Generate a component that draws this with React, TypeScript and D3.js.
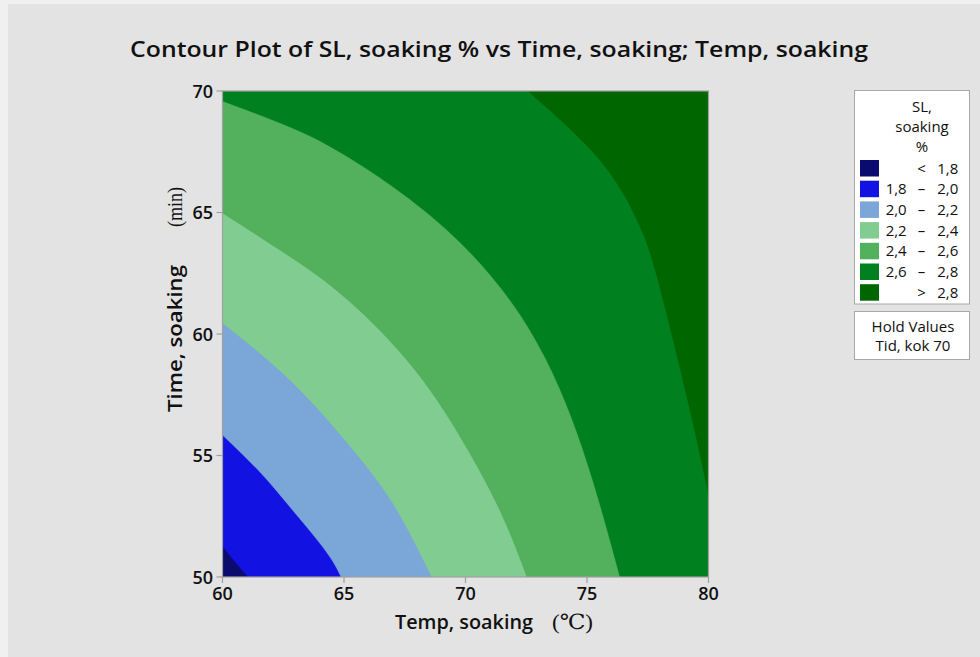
import React from "react";
import * as d3 from "d3";

// ---- data ----
const TEMP_DOMAIN = [60, 80];
const TIME_DOMAIN = [50, 70];
const X_TICKS = [60, 65, 70, 75, 80];
const Y_TICKS = [50, 55, 60, 65, 70];

// contour boundaries [temp, time]
const C18 = [[60, 51.28], [60.5, 50.65], [61.05, 50]];
const C20 = [[60, 55.84], [61.54, 54.32], [62.78, 52.88], [64.22, 51.11], [64.88, 50]];
const C22 = [[60, 60.45], [62.85, 58.04], [65.38, 55.23], [67.1, 52.89], [68.62, 50]];
const C24 = [[60, 64.98], [62.78, 63.18], [65.16, 61.4], [67.92, 58.52], [70.1, 55.23], [71.54, 52.47], [72.53, 50]];
const C26 = [[60, 69.59], [62.78, 68.52], [65.37, 67.16], [69.24, 64.28], [72.65, 60.16], [74.84, 55.23], [76.36, 50]];
const C28 = [[72.57, 70], [75.53, 67.16], [77.06, 64.69], [77.92, 62.22], [79.24, 56.87], [80, 53.4]];

const LEVEL_COLORS = ["#0b0b6f", "#1212e2", "#7ba6d8", "#81cd91", "#53b05d", "#00801f", "#006600"];
const LEGEND_LOW = ["", "1,8", "2,0", "2,2", "2,4", "2,6", ""];
const LEGEND_SIGN = ["<", "–", "–", "–", "–", "–", ">"];
const LEGEND_HIGH = ["1,8", "2,0", "2,2", "2,4", "2,6", "2,8", "2,8"];

const TITLE = "Contour Plot of SL, soaking % vs Time, soaking; Temp, soaking";

const W = 980;
const H = 657;
const PL = 222.5, PR = 708.5, PT = 91, PB = 577;

export default function App() {
  const x = d3.scaleLinear().domain(TEMP_DOMAIN).range([PL, PR]);
  const y = d3.scaleLinear().domain(TIME_DOMAIN).range([PB, PT]);
  const line = d3
    .line<number[]>()
    .x((d) => x(d[0]))
    .y((d) => y(d[1]))
    .curve(d3.curveNatural);

  const lowerRegion = (b: number[][]) =>
    `${line(b)}L${x(80)},${y(50)}L${x(80)},${y(70)}L${x(60)},${y(70)}Z`;
  const cornerRegion = (b: number[][]) => `${line(b)}L${x(80)},${y(70)}Z`;

  const regions = [
    { d: lowerRegion(C18), c: LEVEL_COLORS[1] },
    { d: lowerRegion(C20), c: LEVEL_COLORS[2] },
    { d: lowerRegion(C22), c: LEVEL_COLORS[3] },
    { d: lowerRegion(C24), c: LEVEL_COLORS[4] },
    { d: lowerRegion(C26), c: LEVEL_COLORS[5] },
    { d: cornerRegion(C28), c: LEVEL_COLORS[6] },
  ];

  const font = "'Open Sans', 'Noto Sans', sans-serif";
  const axisCol = "#a0a0a0";

  return (
    <svg
      width={W}
      height={H}
      style={{ position: "absolute", left: 0, top: 0, display: "block" }}
      fontFamily={font}
    >
      <rect x={0} y={0} width={W} height={H} fill="#f0f0f0" />
      <rect x={8} y={4} width={W - 8} height={H - 4} fill="#e3e3e3" />

      <text x={499} y={57} textAnchor="middle" fontSize={22} fontWeight={600} fill="#111" textLength={738} lengthAdjust="spacingAndGlyphs">
        {TITLE}
      </text>

      <defs>
        <clipPath id="plotclip">
          <rect x={PL} y={PT} width={PR - PL} height={PB - PT} />
        </clipPath>
      </defs>
      <g clipPath="url(#plotclip)">
        <rect x={PL} y={PT} width={PR - PL} height={PB - PT} fill={LEVEL_COLORS[0]} />
        {regions.map((r, i) => (
          <path key={i} d={r.d} fill={r.c} stroke={r.c} strokeWidth={0.5} />
        ))}
      </g>
      <rect x={PL} y={PT} width={PR - PL} height={PB - PT} fill="none" stroke={axisCol} strokeWidth={1.2} />

      {X_TICKS.map((t) => (
        <g key={"x" + t}>
          <line x1={x(t)} x2={x(t)} y1={PB} y2={PB + 6} stroke={axisCol} strokeWidth={1.2} />
          <text x={x(t)} y={600} textAnchor="middle" fontSize={18} fontWeight={600} fill="#111">
            {t}
          </text>
        </g>
      ))}
      {Y_TICKS.map((t) => (
        <g key={"y" + t}>
          <line x1={PL - 6} x2={PL} y1={y(t)} y2={y(t)} stroke={axisCol} strokeWidth={1.2} />
          <text x={213} y={y(t) + 6.5} textAnchor="end" fontSize={18} fontWeight={600} fill="#111">
            {t}
          </text>
        </g>
      ))}

      <text x={395} y={629} fontSize={19} fontWeight={600} fill="#111" textLength={138} lengthAdjust="spacingAndGlyphs">
        Temp, soaking
      </text>
      <text x={552} y={629} fontSize={21} fontFamily="'Liberation Serif', 'DejaVu Serif', serif" fill="#111" textLength={41} lengthAdjust="spacingAndGlyphs">
        (℃)
      </text>

      <g transform="translate(182,412) rotate(-90)">
        <text x={0} y={0} fontSize={19} fontWeight={600} fill="#111" textLength={147} lengthAdjust="spacingAndGlyphs">
          Time, soaking
        </text>
        <text x={185} y={0} fontSize={21} fontFamily="'Liberation Serif', 'DejaVu Serif', serif" fill="#111" textLength={40} lengthAdjust="spacingAndGlyphs">
          (min)
        </text>
      </g>

      {/* legend */}
      <rect x={854.5} y={90.5} width={115} height={213.5} fill="#fff" stroke="#a8a8a8" strokeWidth={1} />
      <g fontSize={15} fill="#111">
        <text x={922} y={112} textAnchor="middle">SL,</text>
        <text x={922} y={131.5} textAnchor="middle">soaking</text>
        <text x={922} y={151.5} textAnchor="middle">%</text>
        {LEVEL_COLORS.map((c, i) => {
          const top = 160 + i * 20.7;
          return (
            <g key={"l" + i}>
              <rect x={860} y={top} width={19} height={16.5} fill={c} />
              {LEGEND_LOW[i] && (
                <text x={906.7} y={top + 13.5} textAnchor="end">{LEGEND_LOW[i]}</text>
              )}
              <text x={921.5} y={top + 13.5} textAnchor="middle">{LEGEND_SIGN[i]}</text>
              <text x={958.3} y={top + 13.5} textAnchor="end">{LEGEND_HIGH[i]}</text>
            </g>
          );
        })}
      </g>
      <rect x={854.5} y={311.5} width={115} height={48} fill="#fff" stroke="#a8a8a8" strokeWidth={1} />
      <g fontSize={15} fill="#111">
        <text x={913} y={331.5} textAnchor="middle">Hold Values</text>
        <text x={913} y={351} textAnchor="middle">Tid, kok  70</text>
      </g>
    </svg>
  );
}
